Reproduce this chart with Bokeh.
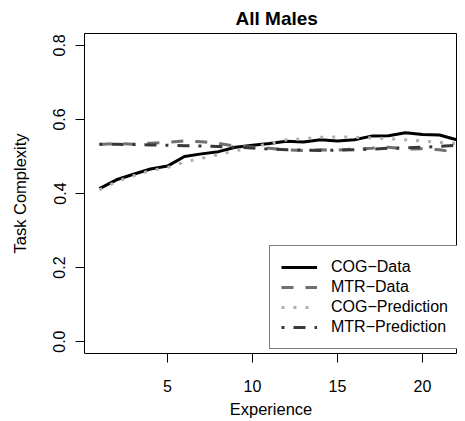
from bokeh.plotting import figure
from bokeh.models import Range1d, Legend, LegendItem, FixedTicker, ColumnDataSource, PrintfTickFormatter
from bokeh.embed import file_html
from bokeh.resources import INLINE

experience = list(range(1, 23))
cog_data = [0.413, 0.437, 0.452, 0.466, 0.474, 0.500, 0.507, 0.513, 0.525, 0.530, 0.535,
            0.541, 0.539, 0.545, 0.542, 0.545, 0.555, 0.556, 0.564, 0.559, 0.558, 0.545]
mtr_data = [0.532, 0.535, 0.533, 0.536, 0.538, 0.542, 0.540, 0.535, 0.528, 0.525, 0.522,
            0.518, 0.516, 0.518, 0.517, 0.520, 0.522, 0.525, 0.520, 0.521, 0.518, 0.511]
cog_pred = [0.410, 0.432, 0.448, 0.462, 0.470, 0.485, 0.495, 0.505, 0.515, 0.525, 0.535,
            0.545, 0.548, 0.552, 0.553, 0.552, 0.550, 0.548, 0.545, 0.542, 0.538, 0.535]
mtr_pred = [0.533, 0.533, 0.532, 0.531, 0.530, 0.529, 0.528, 0.527, 0.525, 0.523, 0.520,
            0.518, 0.517, 0.516, 0.517, 0.518, 0.520, 0.522, 0.523, 0.525, 0.527, 0.530]
x_ticks = [5, 10, 15, 20]
y_ticks = [0.0, 0.2, 0.4, 0.6, 0.8]
series_names = ["COG\u2212Data", "MTR\u2212Data", "COG\u2212Prediction", "MTR\u2212Prediction"]

FONT = "Liberation Sans"

src = ColumnDataSource(dict(x=experience, cog_data=cog_data, mtr_data=mtr_data,
                            cog_pred=cog_pred, mtr_pred=mtr_pred))

p = figure(width=457, height=421, output_backend="svg", toolbar_location=None,
           x_range=Range1d(0.12, 22.06), y_range=Range1d(-0.032, 0.832),
           min_border_left=84, min_border_right=0, min_border_top=25, min_border_bottom=68)

p.title.text = "All Males"
p.title.text_font = FONT
p.title.text_font_size = "19px"
p.title.text_font_style = "bold"
p.title.align = "left"
p.title.text_color = "black"
p.title.offset = 151

p.grid.visible = False
p.outline_line_color = "black"
p.outline_line_width = 1
p.background_fill_color = "white"
p.border_fill_color = "white"

for ax in (p.xaxis[0], p.yaxis[0]):
    ax.axis_line_color = None
    ax.major_tick_in = 0
    ax.major_tick_out = 9
    ax.major_tick_line_color = "black"
    ax.minor_tick_line_color = None
    ax.major_label_text_font = FONT
    ax.major_label_text_font_size = "16px"
    ax.major_label_text_color = "black"
    ax.axis_label_text_font = FONT
    ax.axis_label_text_font_size = "16.5px"
    ax.axis_label_text_font_style = "normal"
    ax.axis_label_text_color = "black"

p.xaxis[0].ticker = FixedTicker(ticks=x_ticks)
p.yaxis[0].ticker = FixedTicker(ticks=y_ticks)
p.yaxis[0].formatter = PrintfTickFormatter(format="%.1f")
p.yaxis[0].major_label_orientation = "vertical"
p.xaxis[0].axis_label = "Experience"
p.yaxis[0].axis_label = "Task Complexity"
p.xaxis[0].major_label_standoff = 17
p.xaxis[0].axis_label_standoff = 5
p.yaxis[0].major_label_standoff = 10
p.yaxis[0].axis_label_standoff = 22

r1 = p.line("x", "cog_data", source=src, line_color="black", line_width=3)
r2 = p.line("x", "mtr_data", source=src, line_color="#707070", line_width=3, line_dash="12 12")
r3 = p.line("x", "cog_pred", source=src, line_color="#b0b0b0", line_width=3, line_dash="3 9")
r4 = p.line("x", "mtr_pred", source=src, line_color="#383838", line_width=3, line_dash="3 9 12 9")

legend = Legend(items=[LegendItem(label=n, renderers=[r]) for n, r in zip(series_names, [r1, r2, r3, r4])],
                location=(185, 4))
legend.label_text_font = FONT
legend.label_text_font_size = "16px"
legend.label_text_color = "black"
legend.glyph_width = 36
legend.glyph_height = 20
legend.label_height = 20
legend.spacing = 0
legend.padding = 11
legend.margin = 0
legend.label_standoff = 14
legend.border_line_color = "black"
legend.border_line_width = 1
legend.background_fill_alpha = 1.0
p.add_layout(legend, "center")

open("out.html", "w").write(file_html(p, INLINE))
